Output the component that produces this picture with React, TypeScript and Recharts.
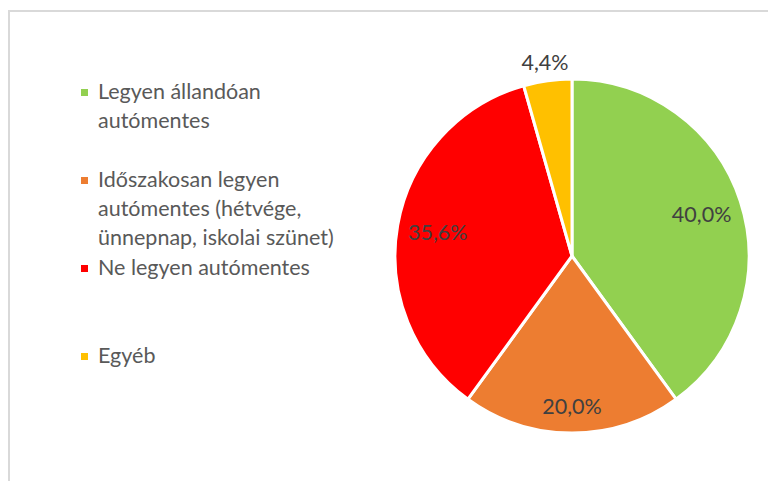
import React from 'react';
import { PieChart, Pie, Cell } from 'recharts';

const categories = [
  'Legyen állandóan autómentes',
  'Időszakosan legyen autómentes (hétvége, ünnepnap, iskolai szünet)',
  'Ne legyen autómentes',
  'Egyéb',
];
const shares = [40.0, 20.0, 35.6, 4.4];
const colors = ['#92D050', '#ED7D31', '#FF0000', '#FFC000'];

const data = categories.map((name, i) => ({ name, value: shares[i] }));

const FONT = 'Lato, "Open Sans", sans-serif';

const renderLabel = (props: any) => {
  const { cx, cy, midAngle, outerRadius, percent } = props;
  const RAD = Math.PI / 180;
  const r = percent < 0.1 ? outerRadius + 19 : outerRadius * (percent < 0.3 ? 0.85 : 0.77);
  const x = cx + r * Math.cos(-midAngle * RAD);
  const y = cy + r * Math.sin(-midAngle * RAD);
  const text = `${(percent * 100).toFixed(1).replace('.', ',')}%`;
  return (
    <text x={x} y={y} fill="#404040" fontSize={21.5} fontFamily={FONT} textAnchor="middle" dominantBaseline="central">
      {text}
    </text>
  );
};

const ChartLegend = () => (
  <div
    style={{
      position: 'absolute',
      left: 71,
      top: 65,
      fontFamily: FONT,
      fontSize: 21.5,
      color: '#595959',
      lineHeight: '29px',
    }}
  >
    {data.map((d, i) => (
      <div key={d.name} style={{ height: 88, display: 'flex', alignItems: 'flex-start' }}>
        <div style={{ width: 7, height: 7, background: colors[i], marginTop: 12, marginRight: 10, flexShrink: 0 }} />
        <div style={{ width: 258 }}>{d.name}</div>
      </div>
    ))}
  </div>
);

export default function App() {
  return (
    <div
      style={{
        position: 'relative',
        marginTop: 2,
        width: 780,
        height: 480,
        borderTop: '2px solid #d9d9d9',
        borderLeft: '2px solid #d9d9d9',
        background: '#fff',
        overflow: 'hidden',
      }}
    >
      <PieChart width={780} height={480} margin={{ top: 0, right: 0, bottom: 0, left: 0 }}>
        <Pie
          data={data}
          dataKey="value"
          nameKey="name"
          cx={562}
          cy={244}
          outerRadius={177}
          startAngle={90}
          endAngle={-270}
          stroke="#fff"
          strokeWidth={3}
          labelLine={false}
          label={renderLabel}
          isAnimationActive={false}
        >
          {data.map((d, i) => (
            <Cell key={d.name} fill={colors[i]} />
          ))}
        </Pie>
      </PieChart>
      <ChartLegend />
    </div>
  );
}
